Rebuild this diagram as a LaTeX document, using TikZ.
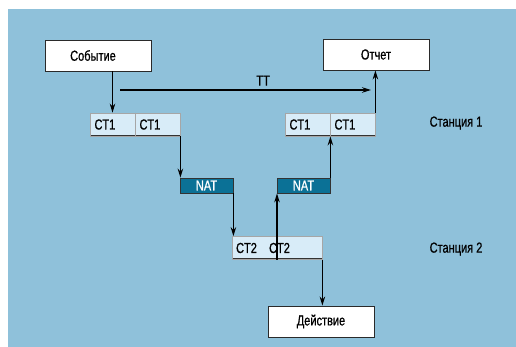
\documentclass[tikz,border=0pt]{standalone}
\usepackage{fontspec}
\setmainfont{Liberation Sans}[FakeStretch=0.76,FakeBold=0.8]
\usepackage{tikz}
\usetikzlibrary{arrows.meta}
\definecolor{NWBlue} {HTML}{8FC1DA}
\definecolor{NWLight}{HTML}{D8ECF8}
\definecolor{NWTeal} {HTML}{0B7196}
\definecolor{NWDark} {HTML}{2A2A2A}

\begin{document}
\begin{tikzpicture}[x=1pt,y=-1pt,
    font=\fontsize{14.5}{17}\selectfont,
    wbox/.style={draw=NWDark,fill=white,line width=0.9pt,minimum width=106pt,minimum height=31pt,inner sep=0pt},
    ctbox/.style={draw=black!35,fill=NWLight,line width=0.8pt,minimum height=23pt,inner ysep=0pt,
      inner xsep=4.5pt,text width=36pt,align=left,
      path picture={\draw[black!80,line width=2.2pt](path picture bounding box.north west)|-(path picture bounding box.south east);}},
    natbox/.style={draw=black!80,fill=NWTeal,text=white,line width=0.8pt,minimum width=53pt,minimum height=15pt,inner sep=0pt},
    arr/.style={-{Stealth[length=9pt,width=5.5pt]},line width=1.2pt,black}
  ]
    \useasboundingbox (0,0) rectangle (516,347);
    \fill[NWBlue] (8,9) rectangle (516,347);
    % station 1
    \node[wbox](ev) at (98,55.5)   {\hspace*{-10pt}Событие};
    \node[wbox](rep) at (376,54.5) {Отчет};
    \node[ctbox](ctA) at (112.5,124.5) {CT1};
    \node[ctbox](ctB) at (157.5,124.5) {CT1};
    \node[ctbox](ctC) at (307.5,124.5) {CT1};
    \node[ctbox](ctD) at (352.5,124.5) {CT1};
    \node(st1) at (456,123) {Станция 1};
    % NAT
    \node[natbox](natA) at (206.5,185.5) {NAT};
    \node[natbox](natB) at (303.5,185.5) {NAT};
    % station 2
    \node[ctbox,text width=81pt](ctE) at (277,248) {};
    \node(ctE1) at (246.5,248) {CT2};
    \node(ctE2) at (279.5,248) {CT2};
    \node(st2) at (456,249) {Станция 2};
    \node[wbox](act) at (321,321.5) {Действие};
    % arrows
    \coordinate(ttA) at (120,90);
    \coordinate(ttB) at (371,90);
    \draw[arr](ttA)--node[above=0.5pt,pos=0.57]{TT}(ttB);
    \draw[arr](ctA.north |- ev.south)--(ctA.north);
    \draw[arr](ctB.south east)--(ctB.south east |- natA.north);
    \draw[arr](natA.south east)--(natA.south east |- ctE.north);
    \draw[arr](ctE.south)--(ctE.south |- natB.south);
    \draw[arr](natB.north east)--(natB.north east |- ctD.south);
    \draw[arr](ctD.north east)--(ctD.north east |- rep.south);
    \draw[arr](ctE.south east)--(ctE.south east |- act.north);
  \end{tikzpicture}
\end{document}
